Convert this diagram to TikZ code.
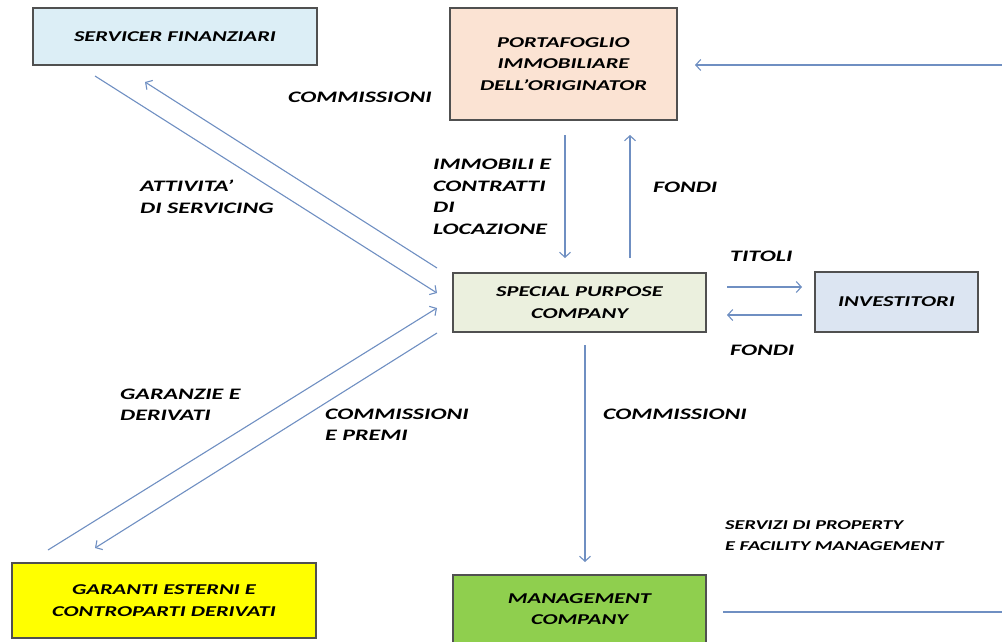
\documentclass[tikz,border=0pt]{standalone}
\usepackage{fontspec}
\setmainfont{Carlito}[FakeStretch=1.5]
\usetikzlibrary{arrows.meta,positioning,calc}
\definecolor{arrc}{HTML}{6F8FC2}
\definecolor{bordc}{HTML}{505050}
\definecolor{fserv}{HTML}{DCEEF6}
\definecolor{fport}{HTML}{FBE3D3}
\definecolor{fspc}{HTML}{EBF0DE}
\definecolor{finv}{HTML}{DCE5F2}
\definecolor{fgar}{HTML}{FFFF00}
\definecolor{fman}{HTML}{8FCF4E}
\begin{document}
\begin{tikzpicture}[x=1pt,y=-1pt,
  box/.style={draw=bordc,line width=1.3pt,align=center,inner sep=2pt,
    font=\fontsize{15}{21.5}\selectfont\bfseries\itshape},
  lab/.style={align=left,inner sep=0pt,anchor=west,
    font=\fontsize{16}{21.5}\selectfont\bfseries\itshape},
  smalllab/.style={align=left,inner sep=0pt,anchor=west,
    font=\fontsize{13.5}{21}\selectfont\bfseries\itshape},
  arr/.style={draw=arrc,line width=1.1pt,-{Straight Barb[length=5pt,width=11pt,line width=1.1pt]}},
  ln/.style={draw=arrc,line width=1.1pt}]
\useasboundingbox (0,0) rectangle (1002,642);
% boxes
\node[box,fill=fserv,minimum width=284pt,minimum height=57pt] (serv) at (175,36.5) {SERVICER FINANZIARI};
\node[box,fill=fport,minimum width=227pt,minimum height=112pt] (port) at (563.5,64) {PORTAFOGLIO\\IMMOBILIARE\\DELL'ORIGINATOR};
\node[box,fill=fspc,minimum width=253pt,minimum height=59pt] (spc) at (579.5,302.5) {SPECIAL PURPOSE\\COMPANY};
\node[box,fill=finv,minimum width=163pt,minimum height=60pt] (inv) at (896.5,302) {INVESTITORI};
\node[box,fill=fgar,minimum width=304pt,minimum height=75pt] (gar) at (164,600.5) {GARANTI ESTERNI E\\CONTROPARTI DERIVATI};
\node[box,fill=fman,minimum width=253pt,minimum height=68pt] (man) at (579.5,609) {MANAGEMENT\\COMPANY};
% connector end points
\coordinate (origR) at (1002,65);
\coordinate (origL) at (695,65);
\coordinate (s1a) at (145,82);
\coordinate (s1b) at (437,268);
\coordinate (s2a) at (95,76);
\coordinate (s2b) at (437,293);
\coordinate (g1a) at (48,550);
\coordinate (g1b) at (437,308);
\coordinate (g2a) at (437,333);
\coordinate (g2b) at (95,548);
\coordinate (pdT) at (565,135);
\coordinate (pdB) at (565,258);
\coordinate (puB) at (630,258);
\coordinate (puT) at (630,135);
\coordinate (tL) at (727,287);
\coordinate (tR) at (802,287);
\coordinate (fR) at (802,315);
\coordinate (fL) at (727,315);
\coordinate (mT) at (585,345);
\coordinate (mB) at (585,562);
\coordinate (bl) at (723,612);
\coordinate (br) at (1002,612);
% connectors
\draw[arr] (origR) -- (origL);
\draw[arr] (s1b) -- (s1a);
\draw[arr] (s2a) -- (s2b);
\draw[arr] (g1a) -- (g1b);
\draw[arr] (g2a) -- (g2b);
\draw[arr] (pdT) -- (pdB);
\draw[arr] (puB) -- (puT);
\draw[arr] (tL) -- (tR);
\draw[arr] (fR) -- (fL);
\draw[arr] (mT) -- (mB);
\draw[ln] (bl) -- (br);
% labels
\node[lab] (l1) at (288,97) {COMMISSIONI};
\node[lab] (l2) at (140,197) {ATTIVITA'\\DI SERVICING};
\node[lab] (l3) at (433,197) {IMMOBILI E\\CONTRATTI\\DI\\LOCAZIONE};
\node[lab] (l4) at (653,187) {FONDI};
\node[lab] (l5) at (730,256) {TITOLI};
\node[lab] (l6) at (730,350) {FONDI};
\node[lab] (l7) at (120,405) {GARANZIE E\\DERIVATI};
\node[lab] (l8) at (325,425) {COMMISSIONI\\E PREMI};
\node[lab] (l9) at (603,414) {COMMISSIONI};
\node[smalllab] (l10) at (725,536) {SERVIZI DI PROPERTY\\E FACILITY MANAGEMENT};
\end{tikzpicture}
\end{document}
